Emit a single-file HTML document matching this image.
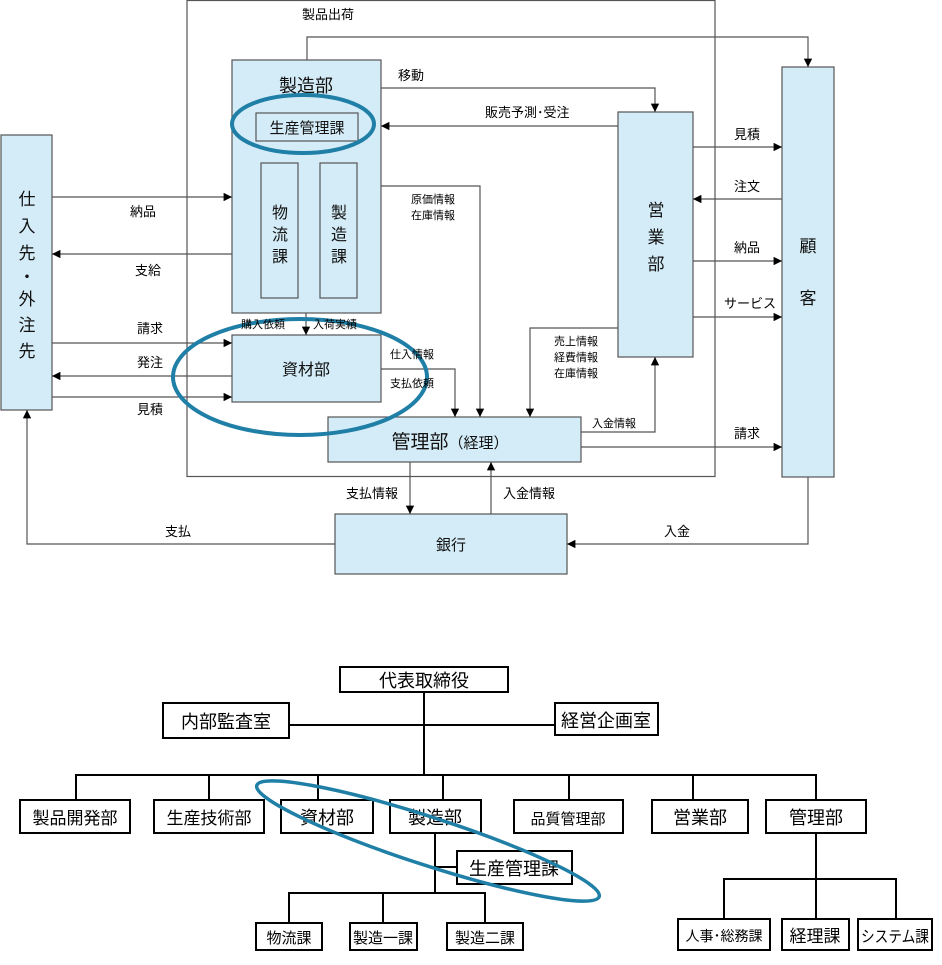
<!DOCTYPE html>
<html><head><meta charset="utf-8"><style>
body{margin:0;background:#fff}
svg{display:block;font-family:"Liberation Sans","Noto Sans CJK JP",sans-serif}
</style></head><body>
<svg width="942" height="965" viewBox="0 0 942 965" xmlns="http://www.w3.org/2000/svg">
<defs><marker id="a" viewBox="0 0 10 10" refX="10" refY="5" markerWidth="7" markerHeight="7" orient="auto"><path d="M0,0L10,5L0,10z" fill="#000"/></marker></defs>
<g fill="none" stroke="#555" stroke-width="1.2">
<rect x="187" y="0.5" width="528" height="476"/>
</g>
<g fill="#d4ecf7" stroke="#555" stroke-width="1.2">
<rect x="232" y="60" width="149" height="253"/>
<rect x="256" y="113" width="102" height="28"/>
<rect x="261" y="163" width="37" height="135"/>
<rect x="320" y="163" width="37" height="135"/>
<rect x="1" y="135" width="51" height="275"/>
<rect x="618" y="112" width="75" height="245"/>
<rect x="782" y="67" width="52" height="410"/>
<rect x="232" y="335" width="149" height="67"/>
<rect x="328" y="417" width="253" height="45"/>
<rect x="335" y="514" width="232" height="60"/>
</g>
<g fill="none" stroke="#555" stroke-width="1.2" marker-end="url(#a)">
<path d="M307,60V37H808V67"/>
<path d="M52,197H232"/><path d="M232,254H52"/><path d="M52,343H232"/><path d="M232,376H52"/><path d="M52,397H232"/>
<path d="M306,313V335"/>
<path d="M381,88H655V112"/>
<path d="M618,126H381"/>
<path d="M381,186H480V417"/>
<path d="M381,369H455V417"/>
<path d="M618,328H530V417"/>
<path d="M581,432H655V357"/>
<path d="M581,447H782"/>
<path d="M693,147H782"/><path d="M782,199H693"/><path d="M693,261H782"/><path d="M693,317H782"/>
<path d="M410,462V514"/><path d="M491,514V462"/>
<path d="M335,544H27V410"/>
<path d="M808,477V544H567"/>
</g>
<g fill="none" stroke="#1f7fa6" stroke-width="4">
<ellipse cx="303" cy="124" rx="71" ry="29"/>
<ellipse cx="300" cy="377" rx="127" ry="58"/>
</g>
<g font-size="13" fill="#000">
<text x="302" y="19">製品出荷</text>
<text x="130" y="216">納品</text><text x="135" y="275">支給</text>
<text x="137" y="333">請求</text><text x="137" y="367">発注</text><text x="137" y="414">見積</text>
<text x="241" y="328" font-size="11">購入依頼</text><text x="313" y="328" font-size="11">入荷実績</text>
<text x="398" y="80">移動</text>
<text x="485" y="117">販売予測･受注</text>
<text x="411" y="203" font-size="11">原価情報</text><text x="411" y="219" font-size="11">在庫情報</text>
<text x="390" y="358" font-size="11">仕入情報</text><text x="390" y="387" font-size="11">支払依頼</text>
<text x="554" y="345" font-size="11">売上情報</text><text x="554" y="361" font-size="11">経費情報</text><text x="554" y="377" font-size="11">在庫情報</text>
<text x="592" y="427" font-size="11">入金情報</text>
<text x="734" y="438">請求</text>
<text x="734" y="139">見積</text><text x="734" y="191">注文</text><text x="734" y="252">納品</text><text x="724" y="308">サービス</text>
<text x="346" y="498">支払情報</text><text x="503" y="498">入金情報</text>
<text x="165" y="536">支払</text><text x="664" y="536">入金</text>
</g>
<g font-size="17" fill="#111" text-anchor="middle">
<text x="306" y="92" font-size="18">製造部</text>
<text x="307" y="133" font-size="15">生産管理課</text>
<text x="280" y="218" font-size="16">物</text><text x="280" y="240" font-size="16">流</text><text x="280" y="262" font-size="16">課</text>
<text x="339" y="218" font-size="16">製</text><text x="339" y="240" font-size="16">造</text><text x="339" y="262" font-size="16">課</text>
<text x="27" y="205">仕</text><text x="27" y="232">入</text><text x="27" y="259">先</text><text x="27" y="283">・</text><text x="27" y="305">外</text><text x="27" y="331">注</text><text x="27" y="357">先</text>
<text x="656" y="216">営</text><text x="656" y="243">業</text><text x="656" y="270">部</text>
<text x="808" y="252">顧</text><text x="808" y="304">客</text>
<text x="306" y="375" font-size="16">資材部</text>
<text x="450" y="448" font-size="19">管理部<tspan font-size="15">（経理）</tspan></text>
<text x="451" y="550" font-size="15">銀行</text>
</g>
<g fill="none" stroke="#000" stroke-width="2">
<path d="M424,692V775M289,725H555M76,800V775H816V800M209,775V800M318,775V800M443,775V800M569,775V800M693,775V800"/>
<path d="M435,833V893M435,867H457M289,923V893H485V923M383,893V923"/>
<path d="M816,833V919M724,919V879H896V919"/>
<rect x="340" y="667" width="168" height="25"/>
<rect x="163" y="703" width="126" height="35"/>
<rect x="555" y="703" width="103" height="32"/>
<rect x="20" y="800" width="110" height="33"/>
<rect x="154" y="800" width="110" height="33"/>
<rect x="281" y="800" width="92" height="33"/>
<rect x="390" y="800" width="91" height="33"/>
<rect x="514" y="800" width="109" height="33"/>
<rect x="652" y="800" width="96" height="33"/>
<rect x="766" y="800" width="100" height="33"/>
<rect x="457" y="851" width="115" height="33"/>
<rect x="256" y="923" width="66" height="27"/>
<rect x="350" y="923" width="67" height="27"/>
<rect x="447" y="923" width="76" height="27"/>
<rect x="678" y="919" width="92" height="31"/>
<rect x="782" y="919" width="67" height="31"/>
<rect x="858" y="919" width="74" height="31"/>
</g>
<g font-size="18" fill="#000" text-anchor="middle">
<text x="424" y="687">代表取締役</text>
<text x="226" y="728">内部監査室</text>
<text x="606" y="727">経営企画室</text>
<text x="75" y="824" font-size="17">製品開発部</text>
<text x="209" y="824" font-size="17">生産技術部</text>
<text x="327" y="824">資材部</text>
<text x="435" y="824">製造部</text>
<text x="568" y="824" font-size="15">品質管理部</text>
<text x="700" y="824">営業部</text>
<text x="816" y="824">管理部</text>
<text x="514" y="875">生産管理課</text>
<text x="289" y="943" font-size="15">物流課</text>
<text x="383" y="943" font-size="15">製造一課</text>
<text x="485" y="943" font-size="15">製造二課</text>
<text x="724" y="941" font-size="14">人事･総務課</text>
<text x="815" y="942" font-size="17">経理課</text>
<text x="895" y="942" font-size="16" textLength="68" lengthAdjust="spacingAndGlyphs">システム課</text>
</g>
<ellipse cx="428" cy="841" rx="180" ry="24" transform="rotate(18 428 841)" fill="none" stroke="#1f7fa6" stroke-width="3.5"/>
</svg>
</body></html>
